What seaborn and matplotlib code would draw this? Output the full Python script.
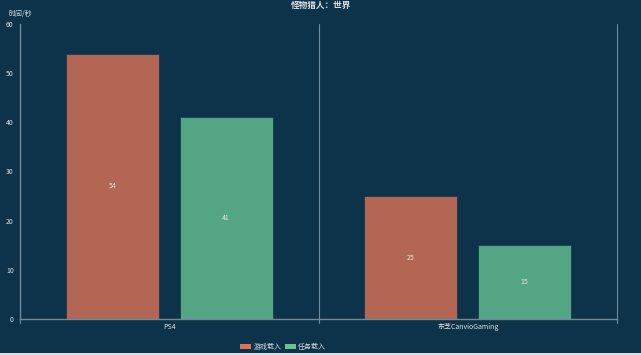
import matplotlib
matplotlib.use("Agg")
import matplotlib.pyplot as plt
import seaborn as sns
import pandas as pd
from matplotlib.patches import Rectangle

categories = ["PS4", "东芝CanvioGaming"]
series_names = ["游戏载入", "任务载入"]
game_load = [54, 25]
task_load = [41, 15]
title = "怪物猎人：世界"
y_name = "时间/秒"
y_ticks = [0, 10, 20, 30, 40, 50, 60]

bg = "#0c3349"
colors = ["#dd7356", "#67c294"]
axis_col = "#6f8a9a"
text_col = "#d9e1e6"

df = pd.DataFrame({
    "cat": categories * 2,
    "series": [series_names[0]] * len(categories) + [series_names[1]] * len(categories),
    "value": game_load + task_load,
})

sns.set_theme(style="white")
plt.rcParams["font.family"] = ["Noto Sans CJK SC", "DejaVu Sans"]

fig = plt.figure(figsize=(6.41, 3.55), dpi=100, facecolor=bg)
ax = fig.add_axes([20 / 641, 36 / 355, 597 / 641, 295 / 355])
ax.set_facecolor(bg)

sns.barplot(data=df, x="cat", y="value", hue="series", order=categories,
            hue_order=series_names, palette=colors, width=0.763, gap=0.184,
            alpha=0.8, ax=ax, legend=False, saturation=1, edgecolor=bg, linewidth=0.6)

ax.set_xlim(-0.5, len(categories) - 0.5)
ax.set_ylim(0, 60)
ax.set_yticks(y_ticks)
ax.set_xlabel("")
ax.set_ylabel("")

for s in ["top", "right"]:
    ax.spines[s].set_visible(False)
for s in ["left", "bottom"]:
    ax.spines[s].set_color(axis_col)
    ax.spines[s].set_linewidth(1.0)

ax.tick_params(axis="y", colors=axis_col, labelcolor=text_col, labelsize=5, length=3, width=0.8, pad=1.5)
ax.tick_params(axis="x", colors=axis_col, labelcolor=text_col, labelsize=5, length=0, pad=3)

# category separators
for i in range(len(categories)):
    ax.plot([i + 0.5, i + 0.5], [-0.8, 60], color=axis_col, lw=0.8, clip_on=False)
ax.plot([-0.5, -0.5], [0, -0.8], color=axis_col, lw=0.8, clip_on=False)

# value labels
for cont in ax.containers:
    ax.bar_label(cont, label_type="center", color="#f0e6e0", fontsize=5)

ax.text(-0.02, 1.02, y_name, transform=ax.transAxes, ha="left", va="bottom",
        color=text_col, fontsize=5)
fig.text(0.5, 0.997, title, ha="center", va="top", color=text_col, fontsize=6.2, fontweight="bold")

# legend
handles = [Rectangle((0, 0), 1, 1, facecolor=c, edgecolor="none") for c in colors]
leg = fig.legend(handles, series_names, loc="center", ncol=2,
                 frameon=False, fontsize=5, labelcolor=text_col, handlelength=1.6,
                 handleheight=0.9, handletextpad=0.3, columnspacing=0.5,
                 bbox_to_anchor=(283 / 641, 1 - 347 / 355), bbox_transform=fig.transFigure)

fig.patches.append(Rectangle((0, 0), 1, 2 / 355, transform=fig.transFigure,
                             facecolor="#d8e0e4", edgecolor="none", zorder=-1))

fig.savefig("out.png", dpi=100, facecolor=bg)
